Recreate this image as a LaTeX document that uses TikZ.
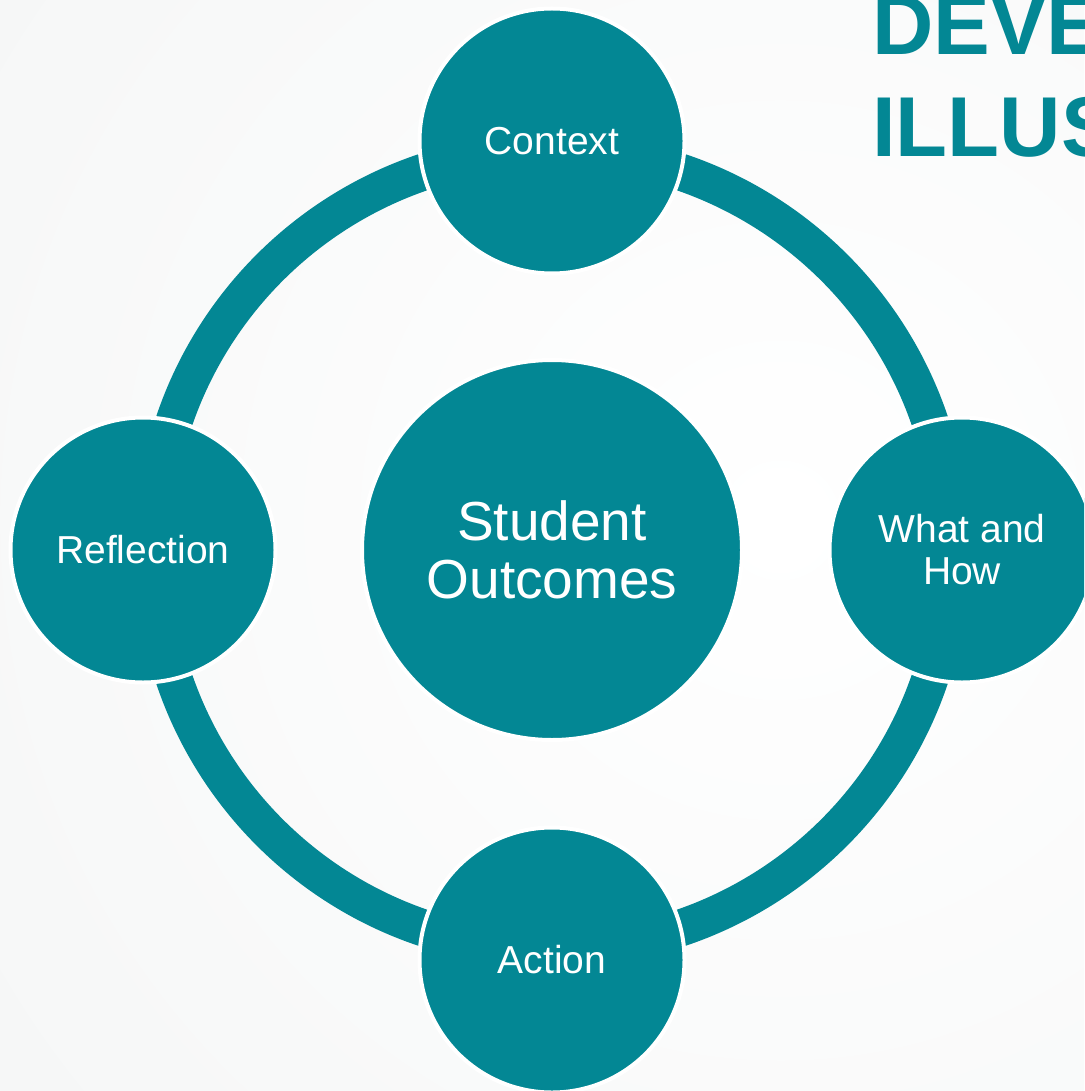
\documentclass[tikz,border=0pt]{standalone}
\usepackage{fontspec}
\setmainfont{Liberation Sans}
\definecolor{tealmain}{RGB}{3,135,148}
\definecolor{bggray}{RGB}{238,240,240}
\begin{document}
\begin{tikzpicture}[x=1pt,y=-1pt,
  bubble/.style={circle, fill=tealmain, draw=white, line width=4pt, inner sep=0pt, outer sep=0pt,
    minimum size=265pt, text=white, align=center, font=\fontsize{39}{42}\selectfont},
  bigbubble/.style={bubble, minimum size=380pt, font=\fontsize{55}{58}\selectfont},
  ringarc/.style={draw=tealmain, line width=37pt},
  titletext/.style={anchor=base west, text=tealmain, inner sep=0pt, font=\fontsize{85}{100}\selectfont\bfseries}]
\useasboundingbox (0,0) rectangle (1084,1091);
\clip (0,0) rectangle (1084,1091);
\fill[bggray] (0,0) rectangle (1084,1091);
\shade[inner color=white, outer color=bggray] (780,520) circle[radius=1800];
% ring points
\coordinate (rT) at (552,151);
\coordinate (rR) at (951,550);
\coordinate (rB) at (552,949);
\coordinate (rL) at (153,550);
\draw[ringarc] (rT) to[bend left=45] (rR);
\draw[ringarc] (rR) to[bend left=45] (rB);
\draw[ringarc] (rB) to[bend left=45] (rL);
\draw[ringarc] (rL) to[bend left=45] (rT);
% circles
\node[bigbubble] (so) at (552,550) {Student\\Outcomes};
\node[bubble] (ctx) at (552,141) {Context};
\node[bubble] (wah) at (962,550) {What and\\How};
\node[bubble] (act) at (552,960) {Action};
\node[bubble] (ref) at (143,550) {Reflection};
% title
\node[titletext] (t1) at (872,55) {DEVE};
\node[titletext] (t2) at (872,157) {ILLUS};
\end{tikzpicture}
\end{document}
